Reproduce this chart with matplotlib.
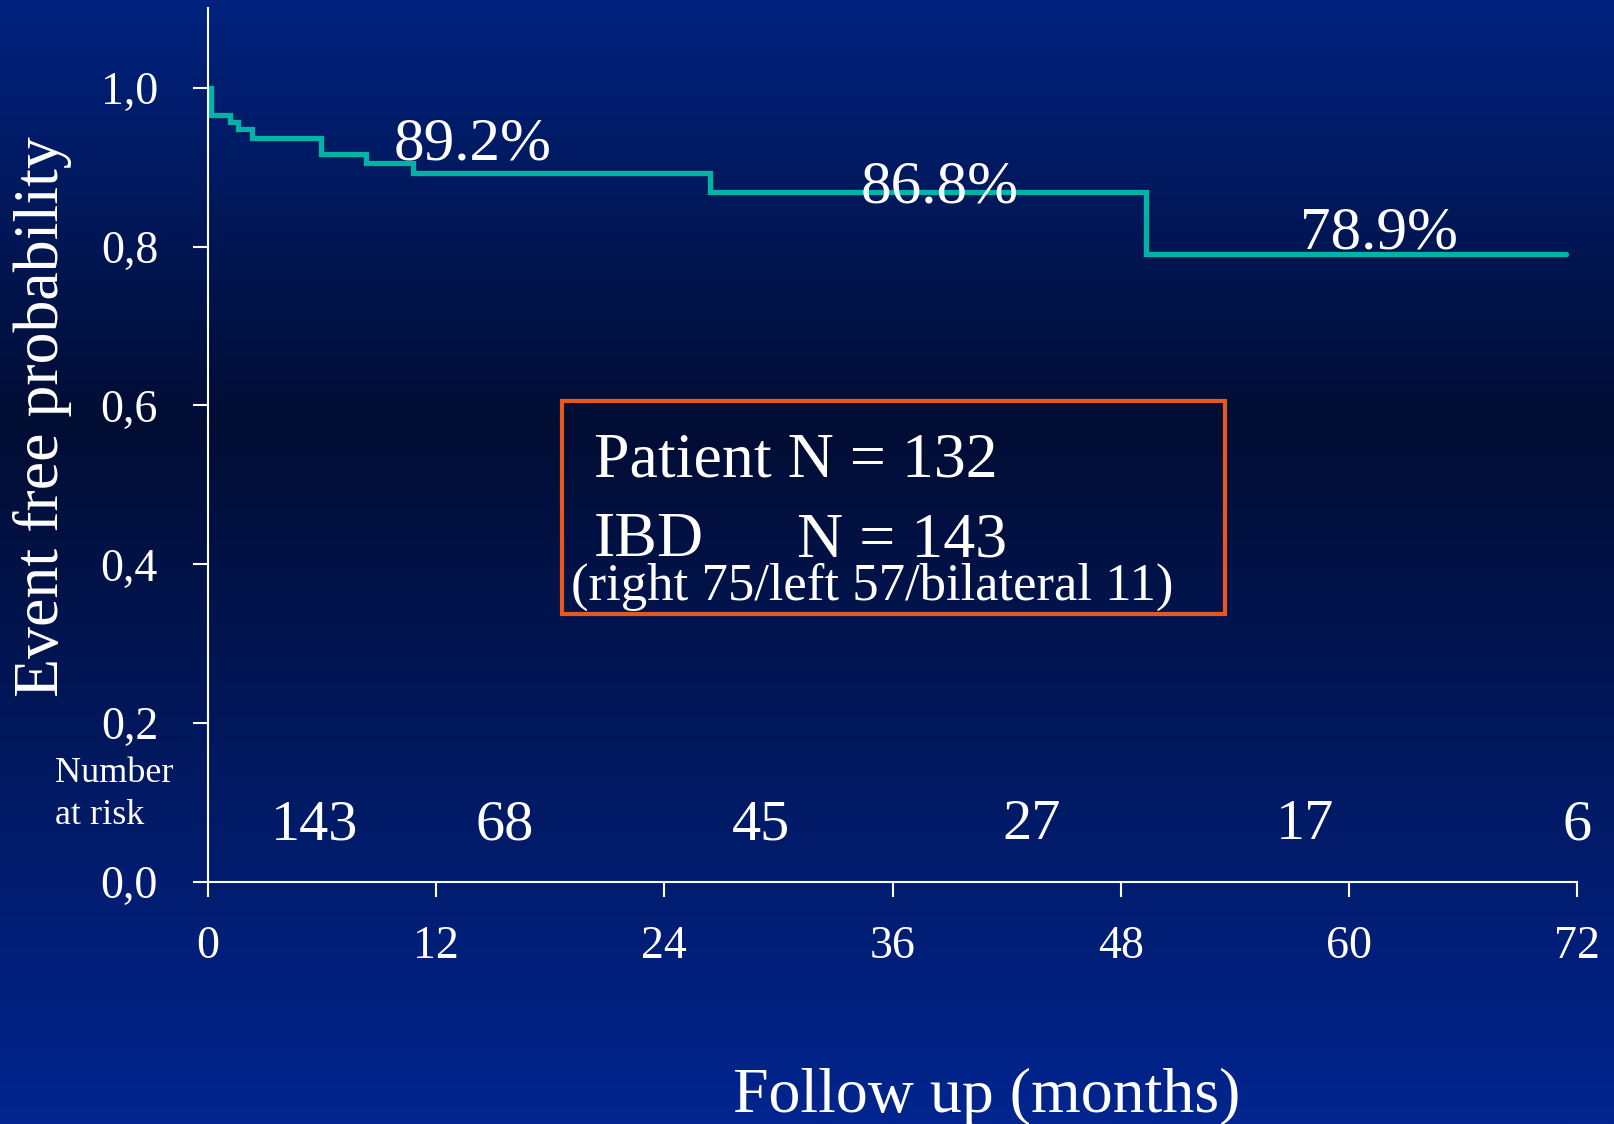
import numpy as np
import matplotlib
matplotlib.use("Agg")
import matplotlib.pyplot as plt
from matplotlib.colors import LinearSegmentedColormap

plt.rcParams['font.family'] = ['Liberation Serif', 'DejaVu Serif']

# Kaplan-Meier curve (months, event free probability)
months = [0, 0.15, 1.16, 1.59, 2.30, 5.93, 8.31, 10.76, 26.4, 49.35, 71.4]
surv = [1.0, 0.965, 0.957, 0.948, 0.937, 0.916, 0.905, 0.893, 0.869, 0.790, 0.790]

# labels on the curve
pct_labels = ["89.2%", "86.8%", "78.9%"]
pct_x = [13.9, 38.5, 61.6]
pct_y = [0.909, 0.856, 0.798]

# number at risk
risk_x = [5.6, 15.6, 29.1, 43.3, 57.7, 72.0]
risk_n = [143, 68, 45, 27, 17, 6]

xticks = [0, 12, 24, 36, 48, 60, 72]
yticks = [0.0, 0.2, 0.4, 0.6, 0.8, 1.0]
yticklabels = ["0,0", "0,2", "0,4", "0,6", "0,8", "1,0"]

fig = plt.figure(figsize=(16.14, 11.24), dpi=100)

# background gradient: blue top, dark navy middle, blue bottom
bg = fig.add_axes([0, 0, 1, 1], zorder=-1)
cmap = LinearSegmentedColormap.from_list(
    "bg", [(0.0, "#02258f"), (0.625, "#010d33"), (1.0, "#00227f")])
grad = np.linspace(0, 1, 512).reshape(-1, 1)
bg.imshow(grad, aspect="auto", cmap=cmap, extent=[0, 1, 0, 1], origin="lower")
bg.axis("off")

ax = fig.add_axes([0.1289, 0.2153, 0.9771 - 0.1289, 0.9927 - 0.2153])
ax.set_facecolor("none")
ax.step(months, surv, where="post", color="#00b3a4", lw=3.8,
        solid_capstyle="round", solid_joinstyle="miter")

ax.set_xlim(0, 72)
ax.set_ylim(0, 1.1)
ax.set_xticks(xticks)
ax.set_yticks(yticks)
ax.set_yticklabels(yticklabels)
for s in ["top", "right"]:
    ax.spines[s].set_visible(False)
for s in ["left", "bottom"]:
    ax.spines[s].set_color("white")
    ax.spines[s].set_linewidth(1.5)
ax.tick_params(axis="both", colors="white", width=1.5, length=11, direction="out")
ax.tick_params(axis="y", labelsize=33, pad=25)
ax.tick_params(axis="x", labelsize=33, pad=20)

for t, x, y in zip(pct_labels, pct_x, pct_y):
    ax.text(x, y, t, color="white", fontsize=44, ha="center", va="baseline")

for x, n in zip(risk_x, risk_n):
    ax.text(x, 0.054, str(n), color="white", fontsize=42, ha="center", va="baseline")

ax.text(-8.07, 0.126, "Number", color="white", fontsize=26, ha="left",
        va="baseline", clip_on=False)
ax.text(-8.07, 0.0736, "at risk", color="white", fontsize=26, ha="left",
        va="baseline", clip_on=False)

# info box
ax.add_patch(plt.Rectangle((18.6, 0.337), 53.5 - 18.6, 0.605 - 0.337,
                           fill=False, edgecolor="#e8581e", lw=3))
ax.text(20.3, 0.510, "Patient N = 132", color="white", fontsize=46, va="baseline")
ax.text(20.3, 0.410, "IBD", color="white", fontsize=46, va="baseline")
ax.text(31.0, 0.410, "N = 143", color="white", fontsize=46, va="baseline")
ax.text(19.1, 0.355, "(right 75/left 57/bilateral 11)", color="white",
        fontsize=38, va="baseline")

fig.text(987 / 1614, 1 - 1111.6 / 1124, "Follow up (months)", color="white",
         fontsize=46, ha="center", va="baseline")
fig.text(43 / 1614, 1 - 417 / 1124, "Event free probability", color="white",
         fontsize=46, ha="center", va="center", rotation=90)

fig.savefig("out.png", dpi=100)
